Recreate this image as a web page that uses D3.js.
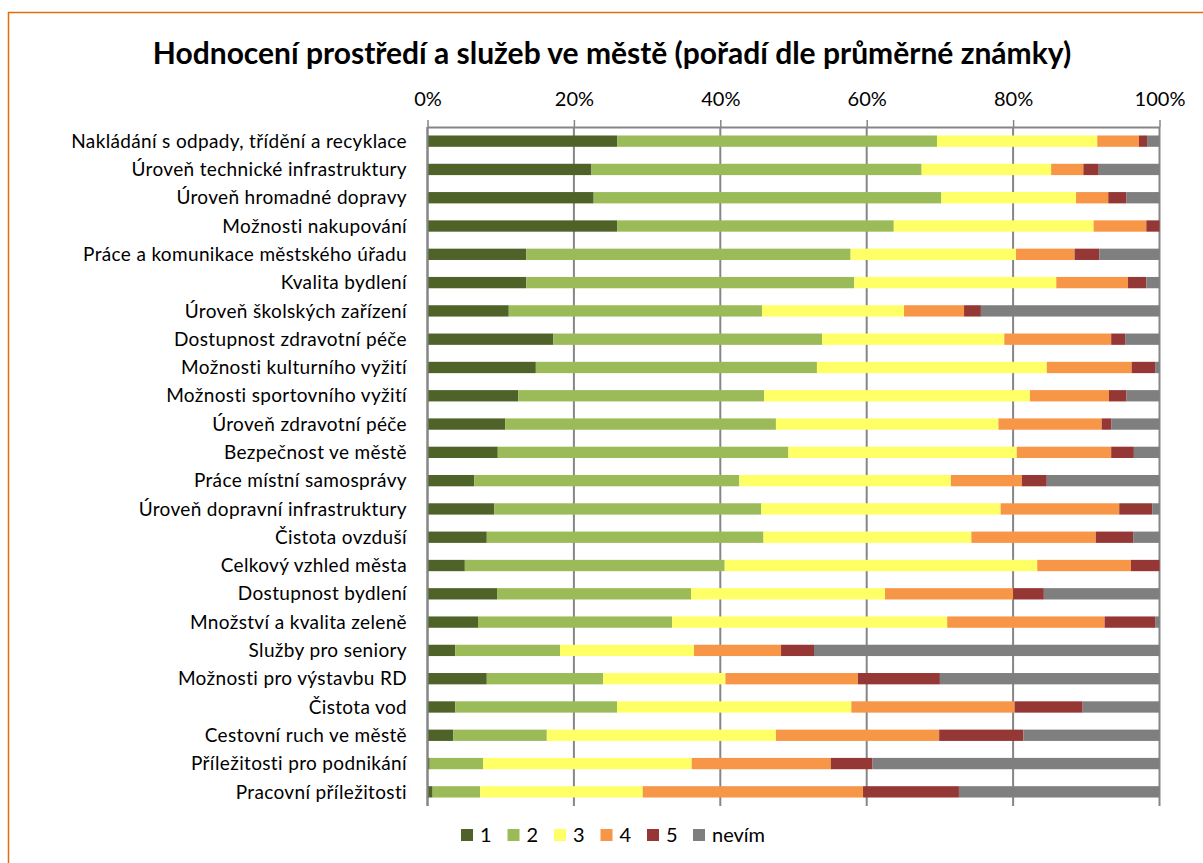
<!DOCTYPE html>
<html>
<head>
<meta charset="utf-8">
<script src="https://cdn.jsdelivr.net/npm/d3@7"></script>
<style>
  body { margin: 0; background: #fff; }
  svg { display: block; }
</style>
</head>
<body>
<svg id="chart" width="1203" height="863"></svg>
<script>
// categories, top to bottom
var categories = [
  "Nakládání s odpady, třídění a recyklace",
  "Úroveň technické infrastruktury",
  "Úroveň hromadné dopravy",
  "Možnosti nakupování",
  "Práce a komunikace městského úřadu",
  "Kvalita bydlení",
  "Úroveň školských zařízení",
  "Dostupnost zdravotní péče",
  "Možnosti kulturního vyžití",
  "Možnosti sportovního vyžití",
  "Úroveň zdravotní péče",
  "Bezpečnost ve městě",
  "Práce místní samosprávy",
  "Úroveň dopravní infrastruktury",
  "Čistota ovzduší",
  "Celkový vzhled města",
  "Dostupnost bydlení",
  "Množství a kvalita zeleně",
  "Služby pro seniory",
  "Možnosti pro výstavbu RD",
  "Čistota vod",
  "Cestovní ruch ve městě",
  "Příležitosti pro podnikání",
  "Pracovní příležitosti"
];

// shares in %, one value per category
var znamka1 = [25.9, 22.4, 22.7, 25.9, 13.5, 13.5, 11.1, 17.2, 14.8, 12.4, 10.6, 9.6, 6.4, 9.1, 8.1, 5.1, 9.5, 6.9, 3.8, 8.1, 3.8, 3.5, 0.3, 0.7];
var znamka2 = [43.7, 45.1, 47.5, 37.8, 44.3, 44.8, 34.6, 36.7, 38.4, 33.6, 37.0, 39.7, 36.2, 36.5, 37.8, 35.5, 26.5, 26.5, 14.3, 15.9, 22.1, 12.8, 7.3, 6.5];
var znamka3 = [21.9, 17.7, 18.4, 27.3, 22.6, 27.6, 19.4, 24.9, 31.4, 36.3, 30.4, 31.2, 28.9, 32.7, 28.4, 42.7, 26.5, 37.6, 18.3, 16.7, 32.0, 31.3, 28.5, 22.2];
var znamka4 = [5.7, 4.4, 4.4, 7.2, 8.0, 9.8, 8.2, 14.6, 11.6, 10.8, 14.1, 12.9, 9.7, 16.2, 17.0, 12.8, 17.5, 21.5, 11.9, 18.1, 22.3, 22.3, 19.0, 30.1];
var znamka5 = [1.1, 2.1, 2.5, 1.8, 3.4, 2.5, 2.3, 1.9, 3.2, 2.4, 1.3, 3.1, 3.4, 4.5, 5.1, 3.9, 4.2, 6.9, 4.5, 11.2, 9.3, 11.5, 5.7, 13.1];
var nevim   = [1.7, 8.3, 4.5, 0.0, 8.2, 1.8, 24.4, 4.7, 0.6, 4.5, 6.6, 3.5, 15.4, 1.0, 3.6, 0.0, 15.8, 0.6, 47.2, 30.0, 10.5, 18.6, 39.2, 27.4];

var seriesNames = ["1", "2", "3", "4", "5", "nevím"];
var seriesColors = ["#4F6228", "#9BBB59", "#FFFF66", "#F79646", "#953735", "#7F7F7F"];
var tickValues = [0, 0.2, 0.4, 0.6, 0.8, 1];

function drawChart() {
  var allSeries = [znamka1, znamka2, znamka3, znamka4, znamka5, nevim];
  var rows = categories.map(function(c, i) {
    var r = { cat: c };
    seriesNames.forEach(function(s, j) { r[s] = allSeries[j][i]; });
    return r;
  });

  var svg = d3.select("#chart");
  var plotLeft = 427.5, plotRight = 1159.5, plotTop = 127, plotBottom = 806;
  var font = "font-family: Lato, 'Open Sans', sans-serif; fill: #000;";

  // orange frame
  svg.append("rect")
    .attr("x", 8.5).attr("y", 12.5)
    .attr("width", 1210).attr("height", 870)
    .attr("fill", "none")
    .attr("stroke", "#E46C0A")
    .attr("stroke-width", 1.5);

  svg.append("text")
    .attr("x", 612).attr("y", 64)
    .attr("text-anchor", "middle")
    .attr("style", font + " font-weight: bold; font-size: 30px")
    .text("Hodnocení prostředí a služeb ve městě (pořadí dle průměrné známky)");

  var x = d3.scaleLinear().domain([0, 1]).range([plotLeft, plotRight]);
  var y = d3.scaleBand().domain(categories).range([plotTop, plotBottom])
    .paddingInner(0.6).paddingOuter(0.3);
  var color = d3.scaleOrdinal().domain(seriesNames).range(seriesColors);

  // gridlines behind bars
  svg.append("g")
    .selectAll("line")
    .data(tickValues)
    .join("line")
    .attr("x1", function(d) { return x(d); })
    .attr("x2", function(d) { return x(d); })
    .attr("y1", plotTop).attr("y2", plotBottom)
    .attr("stroke", "#868686")
    .attr("stroke-width", 2);

  var stack = d3.stack().keys(seriesNames).offset(d3.stackOffsetExpand);
  var layers = stack(rows);

  svg.append("g")
    .selectAll("g")
    .data(layers)
    .join("g")
    .attr("fill", function(d) { return color(d.key); })
    .selectAll("rect")
    .data(function(d) { return d; })
    .join("rect")
    .attr("x", function(d) { return x(d[0]); })
    .attr("width", function(d) { return Math.max(0, x(d[1]) - x(d[0])); })
    .attr("y", function(d) { return y(d.data.cat); })
    .attr("height", y.bandwidth());

  // top axis
  var axis = svg.append("g")
    .attr("transform", "translate(0," + plotTop + ")")
    .call(d3.axisTop(x).tickValues(tickValues).tickFormat(d3.format(".0%"))
      .tickSizeInner(7).tickSizeOuter(0).tickPadding(14));
  axis.select(".domain").attr("stroke", "#868686").attr("stroke-width", 2);
  axis.selectAll(".tick line").attr("stroke", "#868686").attr("stroke-width", 1.5);
  axis.selectAll("text").attr("style", font + " font-size: 20px");

  // left axis line
  svg.append("line")
    .attr("x1", plotLeft).attr("x2", plotLeft)
    .attr("y1", plotTop).attr("y2", plotBottom)
    .attr("stroke", "#868686").attr("stroke-width", 2);

  // category labels
  svg.append("g")
    .selectAll("text")
    .data(categories)
    .join("text")
    .attr("x", 407)
    .attr("y", function(d) { return y(d) + y.bandwidth() / 2; })
    .attr("dy", "0.35em")
    .attr("text-anchor", "end")
    .attr("style", font + " font-size: 19px; letter-spacing: 0.35px")
    .text(function(d) { return d; });

  // legend
  var legendX = [461, 507.5, 554, 600.5, 647, 693];
  var legend = svg.append("g")
    .selectAll("g")
    .data(seriesNames)
    .join("g")
    .attr("transform", function(d, i) { return "translate(" + legendX[i] + ",829)"; });
  legend.append("rect")
    .attr("width", 12).attr("height", 12)
    .attr("fill", function(d) { return color(d); });
  legend.append("text")
    .attr("x", 19).attr("y", 6)
    .attr("dy", "0.36em")
    .attr("style", font + " font-size: 20px")
    .text(function(d) { return d; });
}

drawChart();
</script>
</body>
</html>
